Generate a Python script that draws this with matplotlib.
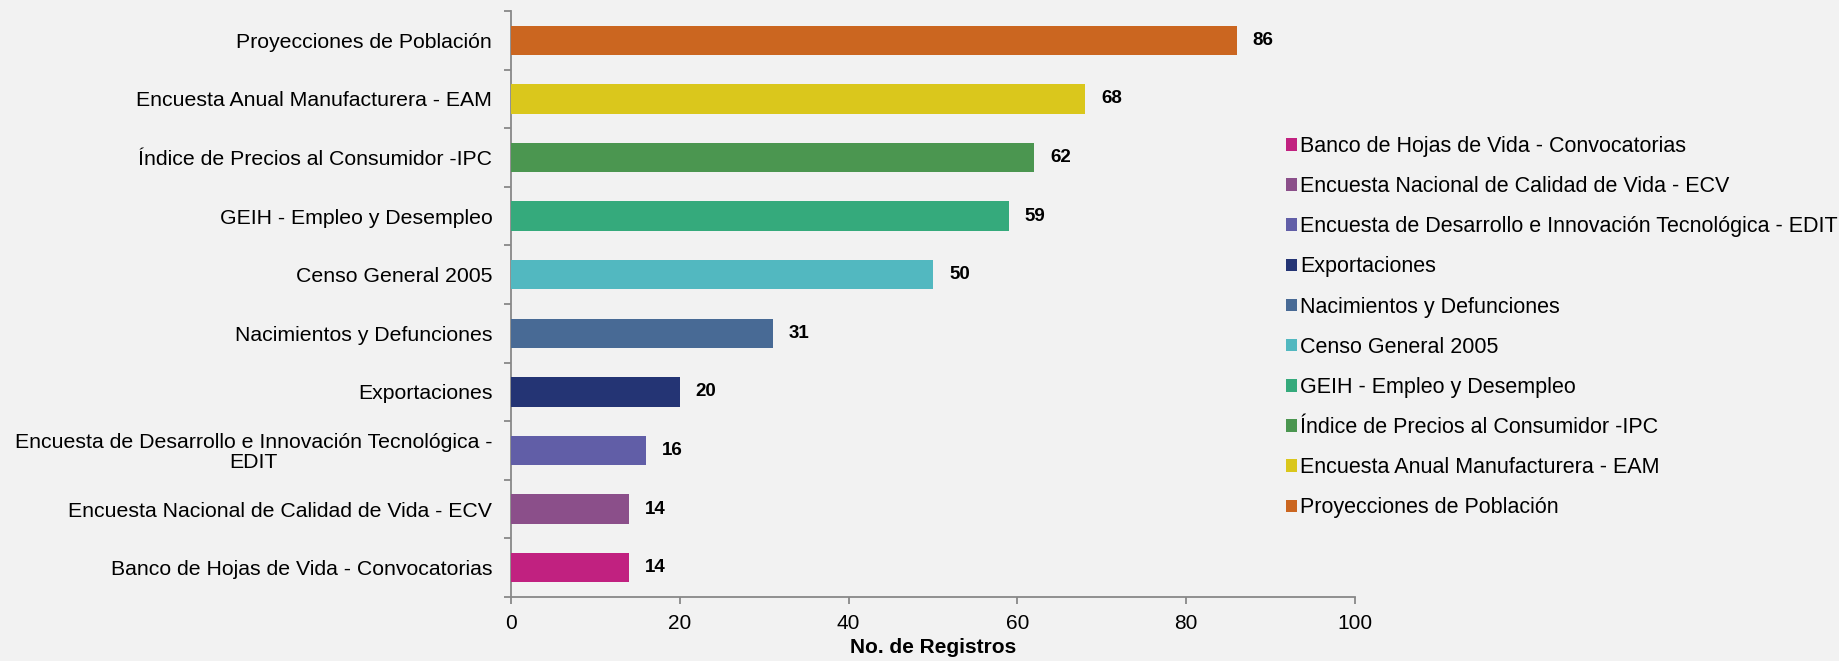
import matplotlib
matplotlib.use("Agg")
import matplotlib.pyplot as plt
from matplotlib.patches import Patch
import numpy as np

# ── Datos (de abajo hacia arriba, como en el gráfico) ─────────────────────────
categorias = [
    "Banco de Hojas de Vida - Convocatorias",
    "Encuesta Nacional de Calidad de Vida - ECV",
    "Encuesta de Desarrollo e Innovación Tecnológica - EDIT",
    "Exportaciones",
    "Nacimientos y Defunciones",
    "Censo General 2005",
    "GEIH - Empleo y Desempleo",
    "Índice de Precios al Consumidor -IPC",
    "Encuesta Anual Manufacturera - EAM",
    "Proyecciones de Población",
]
etiquetas_eje = [
    "Banco de Hojas de Vida - Convocatorias",
    "Encuesta Nacional de Calidad de Vida - ECV",
    "Encuesta de Desarrollo e Innovación Tecnológica -\nEDIT",
    "Exportaciones",
    "Nacimientos y Defunciones",
    "Censo General 2005",
    "GEIH - Empleo y Desempleo",
    "Índice de Precios al Consumidor -IPC",
    "Encuesta Anual Manufacturera - EAM",
    "Proyecciones de Población",
]
registros = [14, 14, 16, 20, 31, 50, 59, 62, 68, 86]
x_ticks = [0, 20, 40, 60, 80, 100]

# ── Paleta ────────────────────────────────────────────────────────────────────
BG = "#F2F2F2"
SPINE = "#888888"
colores = [
    "#C12180", "#8B4F8A", "#615EA7", "#243474", "#486A95",
    "#52B8C0", "#35AA7C", "#4B9650", "#DAC71C", "#CB6620",
]

plt.rcParams["font.family"] = ["Liberation Sans", "DejaVu Sans"]

fig = plt.figure(figsize=(18.39, 6.61), dpi=100, facecolor=BG)
ax = fig.add_axes([511 / 1839, 64 / 661, 844 / 1839, 586 / 661])
ax.set_facecolor(BG)

y = np.arange(len(registros))
bars = ax.barh(y, registros, color=colores, height=0.5, zorder=3)

for bar, val in zip(bars, registros):
    ax.annotate(f"{val}", xy=(bar.get_width(), bar.get_y() + bar.get_height() / 2),
                xytext=(11.5, 0), textcoords="offset points",
                va="center", ha="left", fontsize=13.5, fontweight="bold",
                color="#000000")

ax.set_xlim(0, 100)
ax.set_ylim(-0.5, len(registros) - 0.5)
ax.set_xticks(x_ticks)
ax.set_xticklabels([str(t) for t in x_ticks])

# Etiquetas de categoría centradas, ticks en los bordes (estilo Excel)
ax.set_yticks(y)
ax.set_yticklabels(etiquetas_eje, fontsize=15.3, multialignment="center",
                   linespacing=1.05)
ax.set_yticks(np.arange(len(registros) + 1) - 0.5, minor=True)
ax.tick_params(axis="y", which="major", length=0, pad=13.5)
ax.tick_params(axis="y", which="minor", length=5, width=1.3, color=SPINE)
ax.tick_params(axis="x", length=5, width=1.3, color=SPINE, pad=7, labelsize=15)

for side in ["top", "right"]:
    ax.spines[side].set_visible(False)
for side in ["left", "bottom"]:
    ax.spines[side].set_color(SPINE)
    ax.spines[side].set_linewidth(1.3)

ax.set_xlabel("No. de Registros", fontsize=15, fontweight="bold", labelpad=4)

# Leyenda (orden de abajo hacia arriba del gráfico)
handles = [Patch(facecolor=c, edgecolor="none") for c in colores]
fig.legend(handles, categorias, loc="center left",
           bbox_to_anchor=(1286 / 1839, 0.505), frameon=False,
           fontsize=15.5, handlelength=0.52, handleheight=0.52,
           handletextpad=0.15, labelspacing=0.89, borderpad=0,
           borderaxespad=0)

fig.savefig("out.png", dpi=100, facecolor=BG)
plt.close(fig)
